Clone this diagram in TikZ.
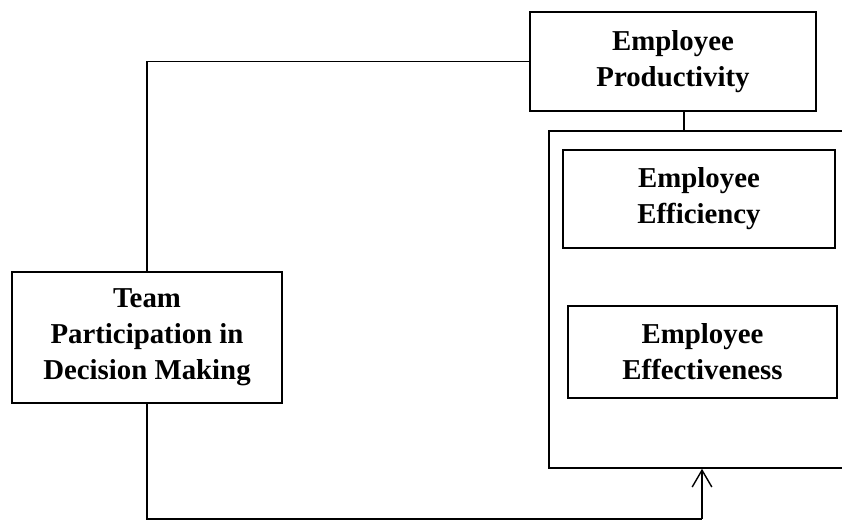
\documentclass[tikz,border=0pt]{standalone}
\usepackage{fontspec}
\setmainfont{Liberation Serif}
\usetikzlibrary{arrows.meta,positioning}
\tikzset{factorbox/.style={draw,rectangle,line width=1.1pt,align=center,inner sep=0pt,
        font=\fontsize{20.5}{25.5}\selectfont\bfseries},
    groupbox/.style={draw,rectangle,line width=1.1pt,inner sep=0pt},
    link/.style={line width=1pt},
    feedarrow/.style={link,-{Straight Barb[length=12pt,width=14pt]}}}

\begin{document}
\begin{tikzpicture}

\clip (0,0) rectangle (21.05,13.075);

\node (group) [groupbox,minimum width=7.825cm,minimum height=8.425cm] at (17.6375,5.5875) {};

\node (prod) [factorbox,minimum width=7.15cm,minimum height=2.475cm] at (16.825,11.5375) {Employee\\Productivity};
\node (effic) [factorbox,minimum width=6.8cm,minimum height=2.45cm] at (17.475,8.1) {Employee\\Efficiency};
\node (effect) [factorbox,minimum width=6.725cm,minimum height=2.3cm] at (17.5625,4.275) {Employee\\Effectiveness};

\node (team) [factorbox,minimum width=6.75cm,minimum height=3.275cm] at (3.675,4.6375) {Team\\Participation in\\Decision Making};

\coordinate (tap) at ([xshift=0.275cm]prod.south);
\coordinate (feed) at (17.55,0.1);

\draw [link] (team.north) |- (prod.west);
\draw [link] (tap) -- (tap |- group.north);
\draw [link] (team.south) |- (feed);
\draw [feedarrow] (feed) -- (feed |- group.south);

\end{tikzpicture}
\end{document}
